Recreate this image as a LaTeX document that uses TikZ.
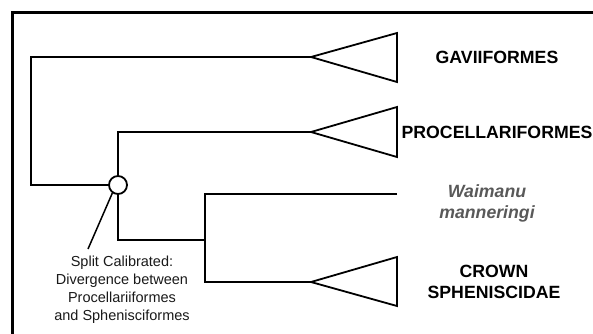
\documentclass[tikz,border=0pt]{standalone}
\usepackage{fontspec}
\setmainfont{Liberation Sans}

\begin{document}
\begin{tikzpicture}[x=1pt, y=-1pt,
    branch/.style={line width=1.8pt, line join=miter},
    clade/.style={font=\bfseries\fontsize{17.7}{21}\selectfont, align=center},
    fossil/.style={font=\bfseries\itshape\fontsize{17.7}{21}\selectfont, text=black!65, align=center},
    note/.style={font=\fontsize{14.5}{18}\selectfont, text=black!90, align=center}]
    \useasboundingbox (0,0) rectangle (593,333);
    \draw[line width=3pt] (12,340) -- (12,12) -- (600,12); % frame

    % tree junctions
    \coordinate (root) at (31,57);
    \coordinate (rootlow) at (31,185);
    \node[circle, draw, fill=white, line width=1.8pt, minimum size=18pt, inner sep=0pt] (cal) at (118,185) {};
    \coordinate (proc) at (118,132);
    \coordinate (sphlow) at (118,240);
    \coordinate (sph) at (205,240);
    \coordinate (waitop) at (205,194);
    \coordinate (crownlow) at (205,282);

    % clade tips
    \coordinate (gavtip) at (311,57);
    \coordinate (proctip) at (311,132);
    \coordinate (waitip) at (397,194);
    \coordinate (crowntip) at (311,282);

    \draw[branch] (gavtip) -- (root) -- (rootlow) -- (cal.west);
    \draw[branch] (cal.north) -- (proc) -- (proctip);
    \draw[branch] (cal.south) -- (sphlow) -- (sph);
    \draw[branch] (waitip) -- (waitop) -- (crownlow) -- (crowntip);

    % collapsed clades
    \draw[branch] (gavtip) -- ++(86,-24) -- ++(0,49) -- cycle;
    \draw[branch] (proctip) -- ++(86,-25) -- ++(0,50) -- cycle;
    \draw[branch] (crowntip) -- ++(86,-25) -- ++(0,49) -- cycle;

    % labels
    \node[clade] (gav) at (497,57) {GAVIIFORMES};
    \node[clade] (procl) at (497,132) {PROCELLARIFORMES};
    \node[fossil] (wai) at (487,203) {Waimanu\\manneringi};
    \node[clade] (crown) at (494,282) {CROWN\\SPHENISCIDAE};

    % calibration note
    \node[note] (split) at (122,290) {Split Calibrated:\\Divergence between\\Procellariiformes\\and Sphenisciformes};
    \coordinate (lead) at (88,249);
    \draw[line width=1.5pt] (cal.235) -- (lead);
\end{tikzpicture}
\end{document}
